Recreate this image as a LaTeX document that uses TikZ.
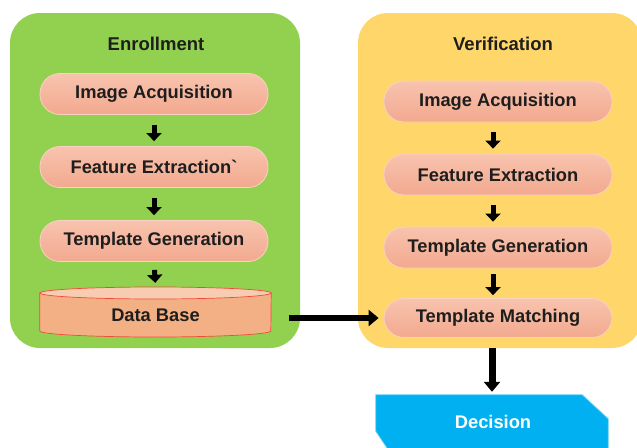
\documentclass[tikz,border=0pt]{standalone}
\usepackage{fontspec}
\setmainfont{Liberation Sans}
\usetikzlibrary{arrows.meta,calc}
\definecolor{pgreen}{HTML}{92D050}
\definecolor{pyellow}{HTML}{FED66A}
\definecolor{pilltop}{HTML}{F8C3AE}
\definecolor{pillbot}{HTML}{F2A98F}
\definecolor{pilledge}{HTML}{F9D2C2}
\definecolor{dbfill}{HTML}{F3B084}
\definecolor{dbtop}{HTML}{F8CCB0}
\definecolor{dbedge}{HTML}{F24A3A}
\definecolor{decblue}{HTML}{00B0F0}
\definecolor{txt}{HTML}{1E1E1E}
\tikzset{
  panel/.style={rounded corners=30pt, inner sep=0pt},
  pill/.style={rounded corners=20pt, minimum width=228pt, minimum height=41pt,
    top color=pilltop, bottom color=pillbot, draw=pilledge, line width=0.8pt,
    text=txt, font=\fontsize{18.3}{20}\selectfont\bfseries, inner sep=0pt},
  ttl/.style={text=txt, font=\fontsize{18.5}{20}\selectfont\bfseries},
  small/.style={line width=5pt, -{Triangle[width=15pt,length=8pt]}, black},
  big/.style={line width=6pt, -{Triangle[width=16pt,length=10pt]}, black},
}
\begin{document}
\begin{tikzpicture}[x=1pt,y=-1pt]
\clip (0,0) rectangle (637,447);
\fill[white] (0,0) rectangle (637,447);
% panels
\node[panel, fill=pgreen, minimum width=290pt, minimum height=335pt] (enr) at (155,180.5) {};
\node[panel, fill=pyellow, minimum width=284pt, minimum height=335pt] (ver) at (500,180.5) {};
\node[ttl] (enrt) at (156,44) {Enrollment};
\node[ttl] (vert) at (503,44) {Verification};
% left pills
\node[pill] (ia1) at (154,94) {Image Acquisition};
\node[pill] (fe1) at (154,167) {Feature Extraction\textasciigrave};
\node[pill] (tg1) at (154,241) {Template Generation};
% database
\node[minimum width=231pt, minimum height=50pt, inner sep=0pt] (db) at (155.5,312) {};
\path[fill=dbfill, draw=dbedge, line width=0.7pt]
  (db.west |- 0,293) -- (db.west |- 0,331)
  arc[start angle=180, end angle=360, x radius=115.5pt, y radius=6pt]
  -- (db.east |- 0,293) -- cycle;
\path[fill=dbtop, draw=dbedge, line width=0.7pt]
  (db.center |- 0,293) ellipse[x radius=115.5pt, y radius=6pt];
\node[text=txt, font=\fontsize{18.3}{20}\selectfont\bfseries] (dbt) at (155.5,315) {Data Base};
% right pills
\node[pill] (ia2) at (498,101.5) {Image Acquisition};
\node[pill] (fe2) at (498,174.5) {Feature Extraction};
\node[pill] (tg2) at (498,247.5) {Template Generation};
\node[pill, minimum height=39pt] (tm2) at (498,318) {Template Matching};
% decision
\node[minimum width=232pt, minimum height=56pt, inner sep=0pt] (dec) at (492,423) {};
\path[fill=decblue, draw=decblue!60!white, line width=0.8pt]
  (dec.north west) -- ([xshift=-26pt]dec.north east) -- ([yshift=-24pt]dec.north east)
  -- ([yshift=-10pt]dec.south east) -- ([xshift=20pt,yshift=-10pt]dec.south west)
  -- ([yshift=20pt]dec.south west) -- cycle;
\node[text=white, font=\fontsize{18.3}{20}\selectfont\bfseries] (dect) at (493,422) {Decision};
% arrows
\draw[small, shorten >=5pt, shorten <=10pt] (ia1.south) -- (fe1.north);
\draw[small, shorten >=5pt, shorten <=10pt] (fe1.south) -- (tg1.north);
\draw[small, shorten >=4pt, shorten <=8pt] (tg1.south) -- (db.north);
\draw[small, shorten >=5pt, shorten <=10pt] ([xshift=-5pt]ia2.south) -- ([xshift=-5pt]fe2.north);
\draw[small, shorten >=5pt, shorten <=10pt] ([xshift=-5pt]fe2.south) -- ([xshift=-5pt]tg2.north);
\draw[small, shorten >=3pt, shorten <=6pt] ([xshift=-5pt]tg2.south) -- ([xshift=-5pt]tm2.north);
\draw[big, shorten >=5pt, shorten <=18pt] (tm2.west -| db.east) -- (tm2.west);
\draw[big, line width=7pt, shorten >=3pt] (ver.south -| dec.north) -- (dec.north);
\end{tikzpicture}
\end{document}
